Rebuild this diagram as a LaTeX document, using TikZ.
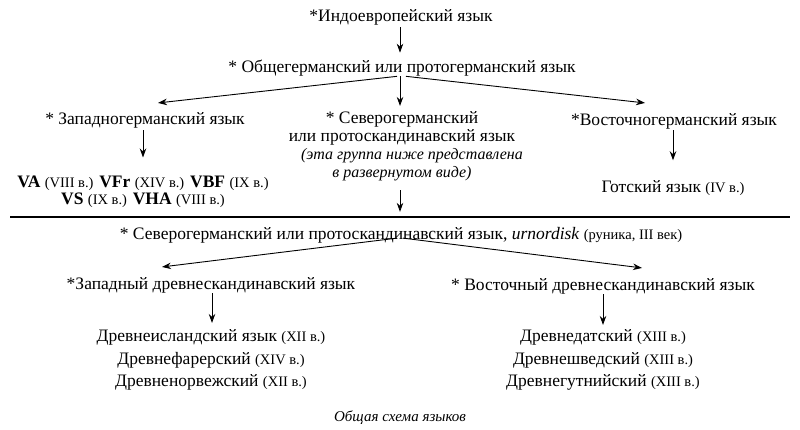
\documentclass[tikz,border=0pt]{standalone}
\usepackage{fontspec}
\setmainfont{Liberation Serif}
\usetikzlibrary{arrows.meta}
\newcommand\rnum[1]{{\fontsize{14.5}{17}\selectfont #1}}
\begin{document}
\begin{tikzpicture}[x=1pt,y=-1pt,
  txt/.style={inner sep=0pt,font=\fontsize{17.5}{20}\selectfont},
  itxt/.style={inner sep=0pt,font=\fontsize{16}{19}\selectfont\itshape},
  arr/.style={-{Stealth[length=9pt,width=6.5pt]},line width=0.9pt},
  rule/.style={line width=1.2pt}]
\useasboundingbox (0,0) rectangle (800,430);
\node[txt] (ie) at (401,17) {*Индоевропейский язык};
\node[txt] (og) at (402,68) {* Общегерманский или протогерманский язык};
\node[txt] (wg) at (145,120) {* Западногерманский язык};
\node[txt] (ngA) at (402,119) {* Северогерманский};
\node[txt] (ngB) at (402,137) {или протоскандинавский язык};
\node[itxt] (ngC) at (412,156) {(эта группа ниже представлена};
\node[itxt] (ngD) at (402,174) {в развернутом виде)};
\node[txt] (eg) at (674,121) {*Восточногерманский язык};
\node[txt] (wl1) at (143,183) {\textbf{VA} \rnum{(VIII в.)} \textbf{VFr} \rnum{(XIV в.)} \textbf{VBF} \rnum{(IX в.)}};
\node[txt] (wl2) at (143,200) {\textbf{VS} \rnum{(IX в.)} \textbf{VHA} \rnum{(VIII в.)}};
\node[txt] (got) at (673,188) {Готский язык \rnum{(IV в.)}};
\coordinate (rl) at (10,217);
\coordinate (rr) at (790,217);
\draw[rule] (rl) -- (rr);
\node[txt] (nn) at (401,235) {* Северогерманский или протоскандинавский язык, \textit{urnordisk} \rnum{(руника, III век)}};
\node[txt] (wn) at (211,285) {*Западный древнескандинавский язык};
\node[txt] (en) at (603,286) {* Восточный древнескандинавский язык};
\node[txt] (w1) at (211,337) {Древнеисландский язык \rnum{(XII в.)}};
\node[txt] (w2) at (211,360) {Древнефарерский \rnum{(XIV в.)}};
\node[txt] (w3) at (211,382) {Древненорвежский \rnum{(XII в.)}};
\node[txt] (e1) at (603,337) {Древнедатский \rnum{(XIII в.)}};
\node[txt] (e2) at (603,360) {Древнешведский \rnum{(XIII в.)}};
\node[txt] (e3) at (603,382) {Древнегутнийский \rnum{(XIII в.)}};
\node[itxt,font=\fontsize{15}{18}\selectfont\itshape] (cap) at (400,418) {Общая схема языков};
% connectors
\draw[arr] ([xshift=-1pt,yshift=-2pt]ie.south) -- ([xshift=-2pt,yshift=7pt]og.north);
\draw[arr] ([xshift=-5pt]og.south) -- ([xshift=13pt,yshift=9pt]wg.north);
\draw[arr] ([xshift=-2pt]og.south) -- ([xshift=-2pt,yshift=5pt]ngA.north);
\draw[arr] ([xshift=4pt]og.south) -- ([xshift=-29pt,yshift=10pt]eg.north);
\draw[arr] ([xshift=-2pt,yshift=-2pt]wg.south) -- ([yshift=18pt]wl1.north);
\draw[arr] ([xshift=-1pt,yshift=-1pt]eg.south) -- ([yshift=20pt]got.north);
\draw[arr] ([xshift=-2pt,yshift=-9pt]ngD.south) -- ([xshift=-1pt,yshift=15pt]nn.north);
\draw[arr] ([xshift=-4pt,yshift=5pt]nn.south) -- ([xshift=-49pt,yshift=10pt]wn.north);
\draw[arr] ([xshift=2pt,yshift=5pt]nn.south) -- ([xshift=39pt,yshift=10pt]en.north);
\draw[arr] ([xshift=1pt]wn.south) -- ([xshift=1pt,yshift=6pt]w1.north);
\draw[arr] (en.south) -- ([yshift=4pt]e1.north);
\end{tikzpicture}
\end{document}
